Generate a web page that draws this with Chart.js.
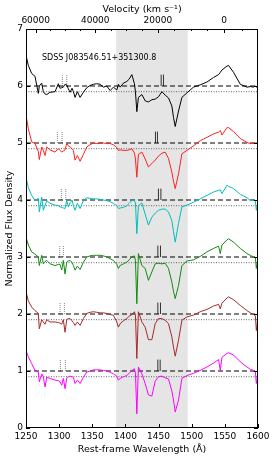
<!DOCTYPE html>
<html>
<head>
<meta charset="utf-8">
<script src="https://cdn.jsdelivr.net/npm/chart.js@4.4.0/dist/chart.umd.min.js"></script>
<style>
  html, body { margin: 0; padding: 0; background: #fff; }
</style>
</head>
<body>
<canvas id="c" width="274" height="461"></canvas>
<script>
// ===== data =====
// rest-frame wavelength grid (A), shared by the six spectra
const wave = [1250, 1253.5, 1258.6, 1263.6, 1268.6, 1270.1, 1273.7, 1276.1, 1278.7, 1281.3,
  1286.3, 1293.8, 1298.8, 1301.4, 1303.9, 1306.3, 1308.9, 1311.5, 1313.9, 1316.5,
  1319.5, 1321.5, 1324, 1327.5, 1331.6, 1336.6, 1341.7, 1346.7, 1351.7, 1356.8,
  1361.8, 1366.8, 1371.9, 1376.9, 1381.9, 1387, 1389.4, 1392, 1397, 1402.1,
  1405.6, 1409.7, 1413.6, 1415.1, 1417.2, 1419.6, 1424.8, 1429.8, 1434.7, 1439.9,
  1444.9, 1449.8, 1455, 1460, 1465, 1470, 1472.5, 1475.1, 1480.1, 1485.2,
  1492.8, 1502.7, 1512.8, 1523, 1533, 1540.5, 1543.1, 1545.6, 1553.2, 1555.6,
  1563.1, 1573.3, 1583.4, 1588.4, 1593.4, 1596, 1597.5, 1600];

// normalized flux of each epoch (before the vertical offset)
const fluxBlack = [1.54, 1.36, 1.22, 1.17, 0.87, 1.00, 1.05, 0.90, 0.86, 0.85,
  0.89, 0.90, 1.04, 0.96, 0.97, 0.98, 1.03, 1.02, 0.95, 0.89,
  0.96, 0.90, 0.80, 0.90, 0.80, 0.89, 0.97, 1.01, 1.03, 1.04,
  1.03, 0.98, 1.00, 0.92, 0.98, 0.93, 1.03, 0.98, 1.05, 1.08,
  1.12, 1.20, 1.04, 0.90, 0.55, 0.80, 0.85, 0.74, 0.72, 0.76,
  0.77, 0.81, 0.90, 0.84, 0.79, 0.65, 0.45, 0.29, 0.56, 0.80,
  0.88, 0.98, 1.02, 1.07, 1.15, 1.20, 1.24, 1.28, 1.35, 1.36,
  1.24, 1.03, 0.98, 0.99, 0.98, 1.00, 0.98, 0.99];
const fluxRed = [1.49, 1.25, 1.02, 0.99, 0.85, 0.71, 0.93, 0.87, 0.78, 0.93,
  0.88, 0.84, 0.90, 0.87, 0.84, 0.86, 0.88, 0.99, 0.95, 0.93,
  0.90, 0.87, 0.70, 0.78, 0.68, 0.80, 0.93, 0.97, 1.00, 0.99,
  1.00, 1.00, 0.99, 0.99, 0.97, 0.92, 0.87, 0.88, 0.87, 0.87,
  0.88, 0.90, 0.82, 0.72, 0.40, 0.80, 0.84, 0.72, 0.58, 0.64,
  0.70, 0.77, 0.82, 0.84, 0.73, 0.49, 0.33, 0.20, 0.46, 0.81,
  0.87, 0.95, 1.04, 1.10, 1.16, 1.19, 1.22, 1.14, 1.27, 1.27,
  1.20, 1.08, 1.01, 0.99, 1.00, 1.00, 1.00, 1.02];
const fluxCyan = [1.40, 1.22, 1.08, 0.99, 1.03, 0.79, 1.05, 0.82, 0.90, 0.99,
  0.94, 0.91, 0.90, 0.88, 0.87, 0.86, 0.85, 0.99, 0.88, 0.95,
  1.00, 0.90, 0.82, 0.94, 0.85, 0.99, 1.04, 1.03, 1.02, 1.02,
  1.01, 1.00, 0.99, 0.97, 0.94, 0.90, 0.85, 0.86, 0.87, 0.90,
  0.94, 0.99, 0.99, 0.95, 0.41, 0.90, 0.95, 0.75, 0.56, 0.70,
  0.77, 0.82, 0.84, 0.84, 0.79, 0.64, 0.45, 0.26, 0.59, 0.88,
  0.91, 0.96, 1.02, 1.08, 1.14, 1.17, 1.18, 1.11, 1.26, 1.24,
  1.20, 1.10, 1.04, 0.99, 1.00, 0.99, 0.82, 0.96];
const fluxGreen = [1.35, 1.21, 1.09, 1.05, 1.00, 0.85, 1.03, 0.88, 0.92, 0.94,
  0.88, 0.85, 0.87, 0.87, 0.77, 0.94, 0.70, 0.91, 0.93, 0.94,
  0.90, 0.85, 0.77, 0.84, 0.78, 0.91, 1.00, 1.02, 1.03, 1.03,
  1.03, 1.02, 1.00, 0.97, 0.94, 0.87, 0.80, 0.85, 0.88, 0.91,
  0.95, 1.00, 1.02, 0.94, 0.18, 1.06, 0.85, 0.80, 0.59, 0.74,
  0.88, 0.89, 0.88, 0.89, 0.80, 0.56, 0.40, 0.27, 0.50, 0.85,
  0.93, 0.95, 1.01, 1.09, 1.15, 1.19, 1.06, 1.21, 1.30, 1.32,
  1.26, 1.15, 1.06, 1.03, 1.00, 0.99, 0.80, 0.98];
const fluxBrown = [1.39, 1.23, 1.12, 1.06, 1.01, 0.74, 0.90, 0.86, 0.82, 0.90,
  0.86, 0.86, 0.85, 0.84, 0.82, 0.90, 0.68, 0.90, 0.92, 0.92,
  0.88, 0.85, 0.80, 0.86, 0.80, 0.92, 1.01, 1.03, 1.04, 1.03,
  1.02, 1.02, 1.01, 0.99, 0.98, 0.86, 0.77, 0.83, 0.88, 0.92,
  0.96, 0.99, 1.04, 0.98, 0.22, 1.04, 0.86, 0.77, 0.55, 0.55,
  0.83, 0.92, 0.92, 0.89, 0.83, 0.60, 0.42, 0.26, 0.54, 0.89,
  0.95, 0.98, 1.04, 1.08, 1.14, 1.17, 1.09, 1.19, 1.28, 1.30,
  1.25, 1.15, 1.06, 1.02, 0.99, 0.97, 0.71, 0.95];
const fluxMagenta = [1.36, 1.25, 1.13, 1.01, 0.98, 0.81, 0.95, 0.90, 0.72, 0.89,
  0.87, 0.84, 0.83, 0.81, 0.75, 0.87, 0.69, 0.88, 0.90, 0.91,
  0.90, 0.89, 0.78, 0.84, 0.78, 0.89, 0.98, 1.00, 1.02, 1.02,
  1.02, 1.01, 1.00, 0.98, 0.95, 0.91, 0.84, 0.87, 0.90, 0.92,
  0.96, 1.01, 1.04, 0.96, 0.25, 1.07, 0.95, 0.78, 0.58, 0.56,
  0.82, 0.90, 0.91, 0.88, 0.86, 0.65, 0.49, 0.28, 0.49, 0.87,
  0.92, 0.96, 1.01, 1.07, 1.14, 1.20, 1.01, 1.24, 1.31, 1.32,
  1.28, 1.16, 1.07, 1.03, 1.01, 0.99, 0.78, 0.95];

// vertical offset of each epoch, top to bottom
const offsets = [5, 4, 3, 2, 1, 0];
const continuumLevel = 1.0;
const lowerLevel = 0.9;

// doublet markers (A) for each epoch: solid pair and dotted pair
const solidPairs = [[1453.9, 1457.4], [1445.3, 1448.3], [1449.8, 1453.5],
  [1448.9, 1452.9], [1448.9, 1452.9], [1448.9, 1452.4]];
const dottedPairs = [[1304.8, 1311.5], [1297.3, 1304.4], [1303.3, 1310.0],
  [1300.9, 1306.3], [1301.4, 1307.9], [1301.8, 1309.4]];
const markerTop = 1.2;

// shaded trough window (A)
const bandStart = 1386;
const bandEnd = 1494;

// top axis: outflow velocity relative to C IV
const civRest = 1549.06;
const velLabels = [60000, 40000, 20000, 0];
const velMinor = [60000, 55000, 50000, 45000, 40000, 35000, 30000, 25000, 20000, 15000, 10000, 5000, 0, -5000];

const objectName = "SDSS J083546.51+351300.8";

// ===== helpers =====
const fluxes = [fluxBlack, fluxRed, fluxCyan, fluxGreen, fluxBrown, fluxMagenta];
const lineColors = ["#000000", "#ff2020", "#00bfbf", "#138a13", "#a52a2a", "#ff00ff"];

function velToWave(v) {
  const b = v / 299792.458;
  return civRest * Math.sqrt((1 - b) / (1 + b));
}

function pairPoints(pair, off, top) {
  return [
    { x: pair[0], y: off + continuumLevel }, { x: pair[0], y: off + top }, { x: pair[0], y: null },
    { x: pair[1], y: off + continuumLevel }, { x: pair[1], y: off + top }
  ];
}

const datasets = [];

offsets.forEach((off, i) => {
  datasets.push({
    data: wave.map((w, k) => ({ x: w, y: fluxes[i][k] + off })),
    borderColor: lineColors[i], borderWidth: 1
  });
});

offsets.forEach((off, i) => {
  datasets.push({
    data: [{ x: 1250, y: off + continuumLevel }, { x: 1600, y: off + continuumLevel }],
    borderColor: "#000", borderWidth: 1, borderDash: [5, 3]
  });
  datasets.push({
    data: [{ x: 1250, y: off + lowerLevel }, { x: 1600, y: off + lowerLevel }],
    borderColor: "#666", borderWidth: 1, borderDash: [1, 1.5]
  });
  datasets.push({
    data: pairPoints(solidPairs[i], off, markerTop),
    borderColor: "#333", borderWidth: 1, spanGaps: false
  });
  datasets.push({
    data: pairPoints(dottedPairs[i], off, markerTop),
    borderColor: "#888", borderWidth: 1, borderDash: [1, 1], spanGaps: false
  });
});

const FONT = "DejaVu Sans";

// gray band, frame, inward ticks and the object label
const decor = {
  id: "decor",
  beforeDatasetsDraw(chart) {
    const { ctx, chartArea: a, scales: { x } } = chart;
    const x0 = x.getPixelForValue(bandStart), x1 = x.getPixelForValue(bandEnd);
    ctx.save();
    ctx.fillStyle = "#e5e5e5";
    ctx.fillRect(x0, a.top, x1 - x0, a.bottom - a.top);
    ctx.restore();
  },
  afterDatasetsDraw(chart) {
    const { ctx, chartArea: a, scales: { x, y } } = chart;
    ctx.save();
    ctx.strokeStyle = "#000";
    ctx.lineWidth = 1;
    ctx.strokeRect(Math.round(a.left) + 0.5, Math.round(a.top) + 0.5,
      Math.round(a.right - a.left) - 1, Math.round(a.bottom - a.top) - 1);

    const seg = (x0, y0, x1, y1) => { ctx.beginPath(); ctx.moveTo(x0, y0); ctx.lineTo(x1, y1); ctx.stroke(); };
    x.ticks.forEach(t => {
      const px = Math.round(x.getPixelForValue(t.value)) + 0.5;
      seg(px, a.bottom, px, a.bottom - 4);
    });
    y.ticks.forEach(t => {
      const py = Math.round(y.getPixelForValue(t.value)) + 0.5;
      seg(a.left, py, a.left + 4, py);
      seg(a.right, py, a.right - 4, py);
    });
    velMinor.forEach(v => {
      const px = Math.round(x.getPixelForValue(velToWave(v))) + 0.5;
      const len = velLabels.includes(v) ? 4 : 2;
      seg(px, a.top, px, a.top + len);
    });

    ctx.fillStyle = "#000";
    ctx.font = "8px '" + FONT + "'";
    ctx.textBaseline = "middle";
    ctx.textAlign = "left";
    ctx.fillText(objectName, x.getPixelForValue(1274), y.getPixelForValue(6.5));
    ctx.restore();
  }
};

const tickFont = { family: FONT, size: 9 };
const titleFont = { family: FONT, size: 9.5 };

new Chart(document.getElementById("c"), {
  type: "line",
  data: { datasets },
  options: {
    responsive: false,
    animation: false,
    parsing: false,
    elements: { point: { radius: 0 }, line: { tension: 0 } },
    layout: { padding: { left: 0, right: 16, top: 0, bottom: 0 } },
    plugins: { legend: { display: false }, tooltip: { enabled: false } },
    scales: {
      x: {
        type: "linear", position: "bottom", min: 1250, max: 1600,
        ticks: {
          stepSize: 50, color: "#000", font: tickFont, maxRotation: 0, padding: 3, autoSkip: false,
          callback: v => String(v)
        },
        grid: { display: false, drawTicks: false },
        border: { display: false },
        title: { display: true, text: "Rest-frame Wavelength (Å)", color: "#000", font: titleFont, padding: { top: 0, bottom: 6 } },
        afterFit(s) { s.height = 33; }
      },
      x2: {
        type: "linear", position: "top", min: 1250, max: 1600,
        afterBuildTicks(s) { s.ticks = velLabels.map(v => ({ value: velToWave(v) })); },
        ticks: {
          color: "#000", font: tickFont, maxRotation: 0, padding: 3, autoSkip: false,
          callback: (val, i) => String(velLabels[i])
        },
        grid: { display: false, drawTicks: false },
        border: { display: false },
        title: { display: true, text: "Velocity (km s⁻¹)", color: "#000", font: titleFont, padding: { top: 4, bottom: 0 } },
        afterFit(s) { s.height = 29; }
      },
      y: {
        min: 0, max: 7,
        ticks: { stepSize: 1, color: "#000", font: tickFont, padding: 3 },
        grid: { display: false, drawTicks: false },
        border: { display: false },
        title: { display: true, text: "Normalized Flux Density", color: "#000", font: titleFont, padding: { top: 4, bottom: 0 } },
        afterFit(s) { s.width = 26; }
      }
    }
  },
  plugins: [decor]
});
</script>
</body>
</html>
